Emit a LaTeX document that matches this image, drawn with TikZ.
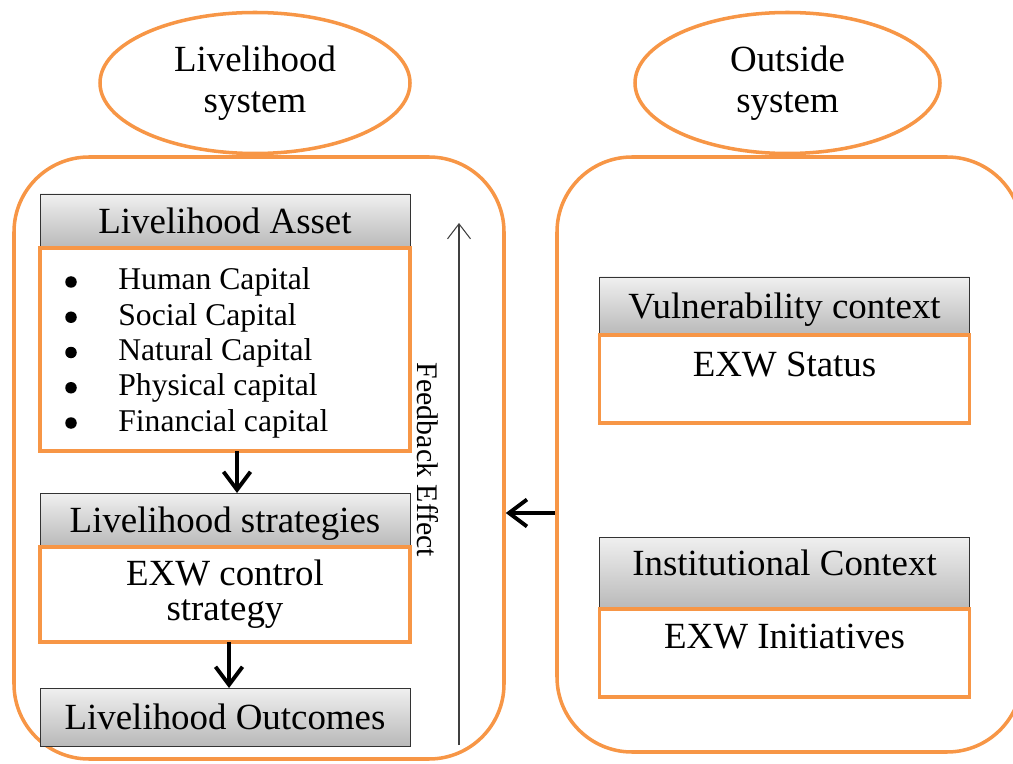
\documentclass[tikz,border=0pt]{standalone}
\usepackage{fontspec}
\setmainfont{Liberation Serif}
\usepackage{tikz}
\usetikzlibrary{positioning}
\usetikzlibrary{shapes}
\usetikzlibrary{arrows.meta}
\tikzset{>=latex}
\definecolor{frameorange}{RGB}{247,150,70}

\begin{document}
\begin{tikzpicture}[
            system/.style={ellipse, draw=frameorange, line width=2pt, minimum width=6.2cm, minimum height=2.82cm, inner sep=0pt, align=center, font=\fontsize{21}{23.2}\selectfont},
            frame/.style={rectangle, draw=frameorange, line width=2pt, rounded corners=1.5cm},
            header/.style={rectangle, draw=black!80, thin, top color=gray!12, bottom color=gray!55, minimum width=7.4cm, inner sep=0pt, outer sep=0pt, text height=14pt, text depth=0pt, font=\fontsize{21}{24}\selectfont},
            body/.style={rectangle, draw=frameorange, line width=2pt, fill=white, minimum width=7.4cm, inner sep=0pt, outer sep=0pt, align=center, font=\fontsize{21}{20}\selectfont},
            capital/.style={inner sep=0pt, font=\fontsize{18}{20}\selectfont},
            bulletdot/.style={circle, fill=black, inner sep=0pt, minimum size=0.23cm},
            flow/.style={-{Straight Barb[length=3.6mm, width=5.4mm]}, line width=2.2pt}
        ]
        \useasboundingbox (0,0) rectangle (20.26,15.26);
        % the two systems
        \node[system] (lsysname) at (5.10, 13.60) {Livelihood\\system};
        \node[system, minimum width=6.1cm] (rsysname) at (15.75, 13.60) {Outside\\system};
        \node[frame, minimum width=9.8cm, minimum height=12.04cm] (lsys) at (5.18, 6.10) {};
        \node[frame, minimum width=9.3cm, minimum height=11.9cm] (rsys) at (15.79, 6.17) {};
        % livelihood side
        \node[header, minimum height=1.08cm] (asset) at (4.50, 10.84) {Livelihood Asset};
        \node[body, below = 0pt of asset, minimum height=4.06cm] (assetbody) {};
        \foreach \capname [count=\i] in {Human Capital, Social Capital, Natural Capital, Physical capital, Financial capital}{
            \node[bulletdot] (dot\i) at (1.42, 10.325-0.705*\i) {};
            \node[capital, anchor=base west] (cap\i) at (2.36, 10.165-0.705*\i) {\capname};
        }
        \node[header, below = 0.84cm of assetbody, minimum height=1.08cm] (strat) {Livelihood strategies};
        \node[body, below = 0pt of strat, minimum height=1.9cm] (stratbody) {EXW control\\strategy};
        \node[header, below = 0.92cm of stratbody, minimum height=1.16cm] (outcome) {Livelihood Outcomes};
        \draw[flow] ([xshift=0.24cm]assetbody.south) -- ([xshift=0.24cm]strat.north);
        \draw[flow] ([xshift=0.08cm]stratbody.south) -- ([xshift=0.08cm]outcome.north);
        % feedback
        \coordinate (fbfoot) at (9.18, 0.36);
        \coordinate (fbhead) at (9.18, 10.80);
        \draw[-{Straight Barb[length=3mm, width=4.6mm]}, line width=0.6pt, black!75] (fbfoot) -- (fbhead);
        \node[rotate=-90, font=\fontsize{17}{20}\selectfont] (fbtext) at (8.56, 6.06) {Feedback Effect};
        % outside side
        \node[header, minimum height=1.16cm] (vuln) at (15.69, 9.14) {Vulnerability context};
        \node[body, below = 0pt of vuln, minimum height=1.76cm, text height=14pt, text depth=17pt] (vulnbody) {EXW Status};
        \node[header, below = 2.28cm of vulnbody, minimum height=1.44cm, text depth=11.4pt] (inst) {Institutional Context};
        \node[body, below = 0pt of inst, minimum height=1.76cm, text height=14pt, text depth=19pt] (instbody) {EXW Initiatives};
        \draw[flow] (rsys.west |- 0,5.0) -- (lsys.east |- 0,5.0);
\end{tikzpicture}
\end{document}
